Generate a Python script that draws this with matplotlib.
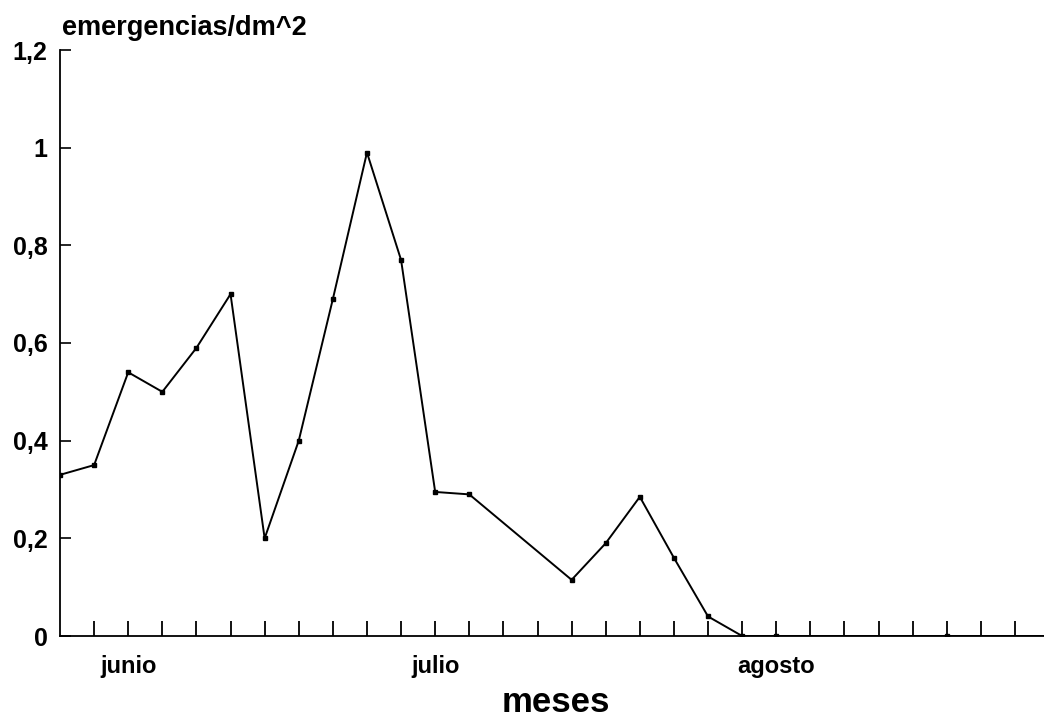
import matplotlib.pyplot as plt
import numpy as np

# week index along the x axis (one tick per week) and emergences per dm^2
semana = [0, 1, 2, 3, 4, 5, 6, 7, 8, 9, 10, 11, 12, 15, 16, 17, 18, 19, 20, 21, 26, 29]
emergencias = [0.33, 0.35, 0.54, 0.50, 0.59, 0.70, 0.20, 0.40, 0.69, 0.99, 0.77,
               0.295, 0.29, 0.115, 0.19, 0.285, 0.16, 0.04, 0.0, 0.0, 0.0, 0.0]
meses = ['junio', 'julio', 'agosto']
meses_pos = [2, 11, 21]
yticks = [0, 0.2, 0.4, 0.6, 0.8, 1.0, 1.2]
ylabels = ['0', '0,2', '0,4', '0,6', '0,8', '1', '1,2']

plt.rcParams['font.family'] = ['Liberation Sans', 'DejaVu Sans']
plt.rcParams['font.weight'] = 'bold'

fig = plt.figure(figsize=(10.44, 7.25), dpi=100)
ax = fig.add_axes([60 / 1044, 1 - 636 / 725, 1 - 60 / 1044, (636 - 50) / 725])

ax.plot(semana, emergencias, color='black', lw=1.4)
ax.plot(semana[:-1], emergencias[:-1], 's', color='black', ms=3.5)

ax.set_xlim(0, 28.85)
ax.set_ylim(0, 1.2)
ax.spines['top'].set_visible(False)
ax.spines['right'].set_visible(False)
ax.spines['left'].set_linewidth(1.3)
ax.spines['bottom'].set_linewidth(1.3)

ax.set_yticks(yticks)
ax.set_yticklabels(ylabels, fontsize=18, fontweight='bold')
ax.tick_params(axis='y', direction='in', length=8, width=1.2, pad=9)

# one tick per week, month names under some of them
xt = np.arange(1, 29)
xl = [''] * len(xt)
for m, p in zip(meses, meses_pos):
    xl[list(xt).index(p)] = m
ax.set_xticks(xt)
ax.set_xticklabels(xl, fontsize=17, fontweight='bold')
ax.tick_params(axis='x', direction='in', length=11, width=1.3, pad=14)

fig.text(62 / 1044, 1 - 28 / 725, 'emergencias/dm^2', fontsize=19.5, fontweight='bold',
         va='center', ha='left')
fig.text(556 / 1044, 1 - 703 / 725, 'meses', fontsize=25, fontweight='bold',
         va='center', ha='center')

fig.savefig('out.png', dpi=100)
